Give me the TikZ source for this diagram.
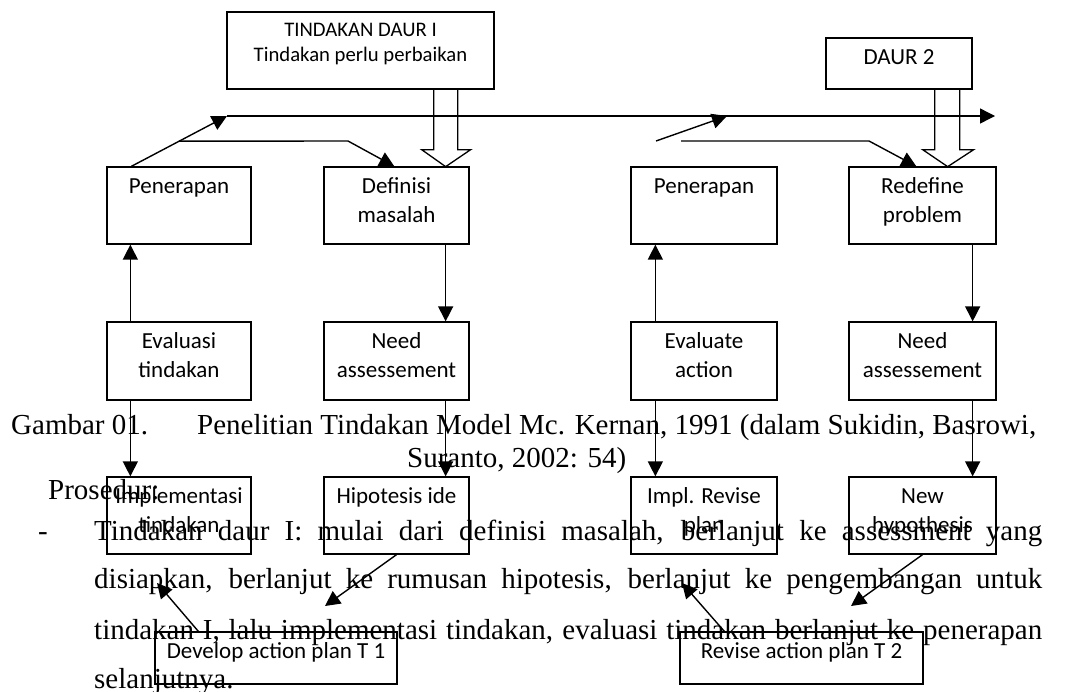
\documentclass[tikz,border=0pt]{standalone}
\usepackage{fontspec}
\setmainfont{Carlito}
\newfontfamily\bodyfont{Liberation Serif}
\usetikzlibrary{arrows.meta,calc}
\newcommand\bxt[4]{\parbox[c][#2pt][t]{#1pt}{\centering\rule{0pt}{#3pt}#4}}
\begin{document}
\begin{tikzpicture}[x=1pt,y=-1pt,
  box/.style={draw,line width=1.3pt,inner sep=0pt,font=\fontsize{23}{29}\selectfont},
  conn/.style={line width=1.4pt,-{Triangle[length=15pt,width=15pt]}},
  hollow/.style={line width=1.3pt,line join=miter},
  body/.style={anchor=base west,inner sep=0pt,font=\bodyfont\fontsize{29}{34}\selectfont}]
\useasboundingbox (0,0) rectangle (1067,691);

% body text
\node[body] (gam) at (11,434) {Gambar 01.};
\node[body] (cap1) at (197,434) {Penelitian Tindakan Model Mc. Kernan, 1991 (dalam Sukidin, Basrowi,};
\node[body] (cap2) at (407,467) {Suranto, 2002: 54)};
\node[body] (pros) at (48,499) {Prosedur:};
\node[body] (dash) at (38,540) {-};
\node[body] (l1) at (94,540) {\makebox[948pt][s]{Tindakan daur I: mulai dari definisi masalah, berlanjut ke assessment yang}};
\node[body] (l2) at (94,588) {\makebox[948pt][s]{disiapkan, berlanjut ke rumusan hipotesis, berlanjut ke pengembangan untuk}};
\node[body] (l3) at (94,639) {\makebox[948pt][s]{tindakan I, lalu implementasi tindakan, evaluasi tindakan berlanjut ke penerapan}};
\node[body] (l4) at (94,688) {selanjutnya.};

% boxes
\node[box,font=\fontsize{20.7}{25}\selectfont] (tind) at (360.5,50.5) {\bxt{267}{77}{24}{TINDAKAN DAUR I\\Tindakan perlu perbaikan}};
\node[box] (daur) at (899,63.5) {\bxt{146}{51}{26}{DAUR 2}};
\node[box] (pen1) at (179,205.5) {\bxt{144}{77}{26}{Penerapan}};
\node[box] (def) at (396.5,205.5) {\bxt{145}{77}{26}{Definisi\\masalah}};
\node[box] (eva) at (179,361) {\bxt{144}{78}{26}{Evaluasi\\tindakan}};
\node[box] (need1) at (396.5,361) {\bxt{145}{78}{26}{Need\\assessement}};
\node[box] (impl) at (179,515.5) {\bxt{144}{77}{26}{Implementasi\\tindakan}};
\node[box] (hip) at (396.5,515.5) {\bxt{145}{77}{26}{Hipotesis ide}};
\node[box] (dev) at (276,658) {\bxt{242}{52}{26}{Develop action plan T 1}};
\node[box] (pen2) at (704,205.5) {\bxt{146}{77}{26}{Penerapan}};
\node[box] (redef) at (922.5,205.5) {\bxt{147}{77}{26}{Redefine\\problem}};
\node[box] (evact) at (704,361) {\bxt{146}{78}{26}{Evaluate\\action}};
\node[box] (need2) at (922.5,361) {\bxt{147}{78}{26}{Need\\assessement}};
\node[box] (implrev) at (704,515.5) {\bxt{146}{77}{26}{Impl. Revise\\plan}};
\node[box] (newhyp) at (922.5,515.5) {\bxt{147}{77}{26}{New\\hypothesis}};
\node[box] (rev) at (801.5,658) {\bxt{243}{52}{26}{Revise action plan T 2}};

% free points
\coordinate (topL) at (227,116);
\coordinate (topR) at (995,116);
\coordinate (p1) at ($(pen1.north west)+(25,0)$);
\coordinate (brL) at ($(p1)!0.5!(topL)$);
\coordinate (brK) at (348,141);
\coordinate (rs1) at (656,141);
\coordinate (rs2) at (727,116);
\coordinate (rb1) at (681,141);
\coordinate (rb2) at (869,141);
\coordinate (hipEnd) at (325,606);
\coordinate (devEnd) at (157,583);
\coordinate (newEnd) at (851,606);
\coordinate (revEnd) at (682,583);

% top flow
\draw[conn] (p1) -- (topL);
\draw[conn] (topL) -- (topR);
\draw[conn] (brL) -- (brK) -- ($(def.north west)+(71,0)$);
\draw[conn] (rs1) -- (rs2);
\draw[conn] (rb1) -- (rb2) -- ($(redef.north west)+(68,0)$);

% hollow arrows
\draw[hollow] ($(tind.south east)+(-61,0)$) -- ($(tind.south east)+(-61,60)$) -- ($(tind.south east)+(-73,60)$) -- ($(tind.south east)+(-49,77)$) -- ($(tind.south east)+(-24,60)$) -- ($(tind.south east)+(-37,60)$) -- ($(tind.south east)+(-37,0)$);
\draw[hollow] ($(daur.south east)+(-38,0)$) -- ($(daur.south east)+(-38,60)$) -- ($(daur.south east)+(-50,60)$) -- ($(daur.south east)+(-25,77)$) -- ($(daur.south east)+(1,60)$) -- ($(daur.south east)+(-13,60)$) -- ($(daur.south east)+(-13,0)$);

% vertical connectors, cycle 1
\draw[conn] ($(eva.north west)+(24,0)$) -- ($(pen1.south west)+(24,0)$);
\draw[conn] ($(def.south east)+(-24,0)$) -- ($(need1.north east)+(-24,0)$);
\draw[conn] ($(eva.south west)+(24,0)$) -- ($(impl.north west)+(24,0)$);
\draw[conn] ($(need1.south east)+(-24,0)$) -- ($(hip.north east)+(-24,0)$);
\draw[conn] (hip.south) -- (hipEnd);
\draw[conn] ($(dev.north west)+(44,0)$) -- (devEnd);

% vertical connectors, cycle 2
\draw[conn] ($(evact.north west)+(25,0)$) -- ($(pen2.south west)+(25,0)$);
\draw[conn] ($(redef.south east)+(-24,0)$) -- ($(need2.north east)+(-24,0)$);
\draw[conn] ($(evact.south west)+(25,0)$) -- ($(implrev.north west)+(25,0)$);
\draw[conn] ($(need2.south east)+(-24,0)$) -- ($(newhyp.north east)+(-24,0)$);
\draw[conn] (newhyp.south) -- (newEnd);
\draw[conn] ($(rev.north west)+(45,0)$) -- (revEnd);
\end{tikzpicture}
\end{document}
